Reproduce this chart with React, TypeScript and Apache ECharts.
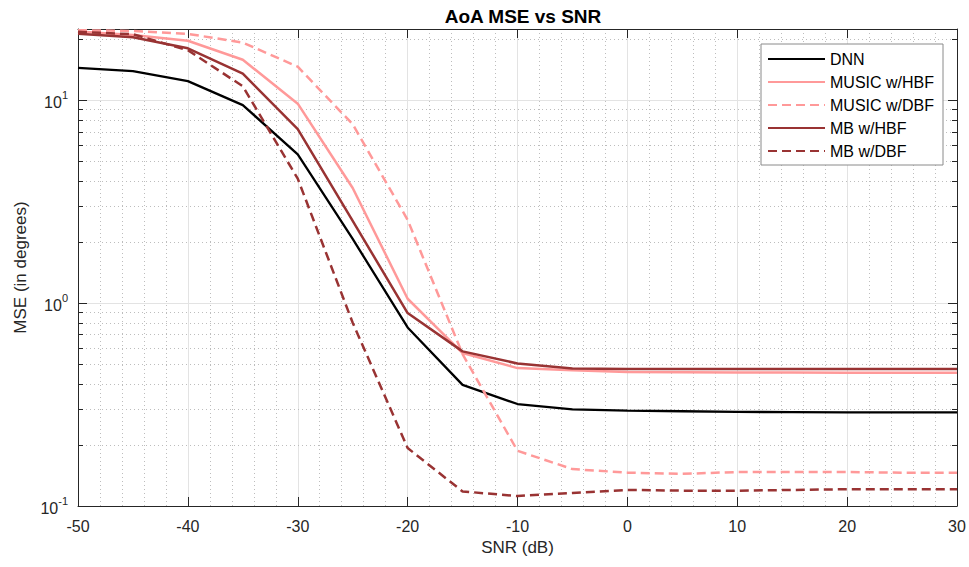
import React, { useEffect, useRef } from "react";
import * as echarts from "echarts";

const snr = [-50, -45, -40, -35, -30, -25, -20, -15, -10, -5, 0, 5, 10, 15, 20, 25, 30];
const dnn = [14.4, 13.9, 12.4, 9.45, 5.4, 2.07, 0.758, 0.395, 0.318, 0.299, 0.295, 0.293, 0.291, 0.29, 0.289, 0.289, 0.289];
const musicHbf = [21.8, 20.9, 19.6, 15.8, 9.6, 3.69, 1.05, 0.567, 0.478, 0.466, 0.457, 0.456, 0.455, 0.455, 0.454, 0.454, 0.454];
const musicDbf = [22.1, 21.9, 21.2, 19.2, 14.6, 7.6, 2.57, 0.56, 0.187, 0.152, 0.146, 0.144, 0.147, 0.147, 0.147, 0.146, 0.146];
const mbHbf = [21.2, 20.4, 18.0, 13.5, 7.2, 2.54, 0.893, 0.578, 0.504, 0.476, 0.473, 0.473, 0.473, 0.473, 0.473, 0.473, 0.473];
const mbDbf = [21.7, 21.1, 17.6, 11.7, 4.1, 0.8, 0.193, 0.118, 0.112, 0.116, 0.12, 0.119, 0.119, 0.12, 0.121, 0.121, 0.121];

const seriesNames = ["DNN", "MUSIC w/HBF", "MUSIC w/DBF", "MB w/HBF", "MB w/DBF"];
const minorY = [0.2, 0.3, 0.4, 0.5, 0.6, 0.7, 0.8, 0.9, 2, 3, 4, 5, 6, 7, 8, 9, 20];

const X_MIN = -50;
const X_MAX = 30;
const Y_MIN = 0.1;
const Y_MAX = 22.4;

const FONT = "'Liberation Sans', Arial, Helvetica, sans-serif";
const AXIS_COLOR = "#262626";
const PINK = "#ff9999";
const DARK = "#993333";

function pairs(ys: number[]) {
  return snr.map((x, i) => [x, ys[i]]);
}

export default function App() {
  const ref = useRef<HTMLDivElement>(null);

  useEffect(() => {
    if (!ref.current) return;
    const chart = echarts.init(ref.current, undefined, { renderer: "svg" });

    const lineSeries = (name: string, data: number[], color: string, dashed: boolean, width: number) => ({
      name,
      type: "line",
      data: pairs(data),
      xAxisIndex: 0,
      yAxisIndex: 0,
      symbol: "none",
      showSymbol: false,
      smooth: false,
      z: 5,
      lineStyle: { color, width, type: dashed ? [9, 5] : "solid" },
      itemStyle: { color },
    });

    const option: any = {
      animation: false,
      backgroundColor: "#ffffff",
      textStyle: { fontFamily: FONT },
      title: {
        text: "AoA MSE vs SNR",
        left: 518,
        textAlign: "center",
        top: 2,
        textStyle: { fontFamily: FONT, fontSize: 19, fontWeight: "bold", color: "#000" },
      },
      legend: {
        data: seriesNames,
        orient: "vertical",
        left: 761,
        top: 44,
        padding: [7, 9, 6, 6],
        itemWidth: 57,
        itemHeight: 14,
        itemGap: 7,
        backgroundColor: "#ffffff",
        borderColor: "#8a8a8a",
        borderWidth: 1,
        itemStyle: { color: "rgba(0,0,0,0)", borderColor: "rgba(0,0,0,0)", borderWidth: 0, opacity: 0 },
        textStyle: { fontFamily: FONT, fontSize: 16, color: "#000" },
      },
      grid: { left: 78, right: 12, top: 29, bottom: 61, containLabel: false },
      xAxis: [
        {
          type: "value",
          min: X_MIN,
          max: X_MAX,
          interval: 10,
          position: "bottom",
          name: "SNR (dB)",
          nameLocation: "middle",
          nameGap: 33,
          nameTextStyle: { fontFamily: FONT, fontSize: 17, color: AXIS_COLOR },
          axisLine: { show: true, onZero: false, lineStyle: { color: AXIS_COLOR, width: 1 } },
          axisTick: { show: true, inside: true, length: 9, lineStyle: { color: AXIS_COLOR } },
          axisLabel: { fontFamily: FONT, fontSize: 16, color: AXIS_COLOR, margin: 12 },
          splitLine: { show: true, lineStyle: { color: "#e3e3e3", width: 1 } },
          minorTick: { show: false, splitNumber: 5 },
          minorSplitLine: { show: true, lineStyle: { color: "#bdbdbd", width: 1, type: [1, 3] } },
        },
        {
          type: "value",
          min: X_MIN,
          max: X_MAX,
          interval: 10,
          position: "top",
          axisLine: { show: true, onZero: false, lineStyle: { color: AXIS_COLOR, width: 1 } },
          axisTick: { show: true, inside: true, length: 9, lineStyle: { color: AXIS_COLOR } },
          axisLabel: { show: false },
          splitLine: { show: false },
        },
      ],
      yAxis: [
        {
          type: "log",
          logBase: 10,
          min: Y_MIN,
          max: Y_MAX,
          position: "left",
          name: "MSE (in degrees)",
          nameLocation: "middle",
          nameGap: 49,
          nameRotate: 90,
          nameTextStyle: { fontFamily: FONT, fontSize: 17, color: AXIS_COLOR },
          axisLine: { show: true, onZero: false, lineStyle: { color: AXIS_COLOR, width: 1 } },
          axisTick: { show: true, inside: true, length: 9, lineStyle: { color: AXIS_COLOR } },
          axisLabel: {
            showMaxLabel: false,
            margin: 10,
            formatter: (v: number) => {
              const e = Math.round(Math.log10(v));
              return `{b|10}{s|${e}}`;
            },
            rich: {
              b: { fontFamily: FONT, fontSize: 16, color: AXIS_COLOR, padding: [5, 0, 0, 0] },
              s: { fontFamily: FONT, fontSize: 11, color: AXIS_COLOR, verticalAlign: "top", lineHeight: 11 },
            },
          },
          splitLine: { show: true, lineStyle: { color: "#e3e3e3", width: 1 } },
        },
        {
          type: "log",
          logBase: 10,
          min: Y_MIN,
          max: Y_MAX,
          position: "right",
          axisLine: { show: true, onZero: false, lineStyle: { color: AXIS_COLOR, width: 1 } },
          axisTick: { show: true, inside: true, length: 9, lineStyle: { color: AXIS_COLOR } },
          axisLabel: { show: false },
          splitLine: { show: false },
        },
      ],
      series: [
        {
          type: "custom",
          silent: true,
          z: 1,
          xAxisIndex: 0,
          yAxisIndex: 0,
          data: minorY.map((v) => [X_MIN, v]),
          renderItem: (_params: any, api: any) => {
            const v = api.value(1);
            const a = api.coord([X_MIN, v]);
            const b = api.coord([X_MAX, v]);
            const y = Math.round(a[1]) + 0.5;
            return {
              type: "group",
              children: [
                {
                  type: "line",
                  shape: { x1: a[0], y1: y, x2: b[0], y2: y },
                  style: { stroke: "#bdbdbd", lineWidth: 1, lineDash: [1, 3] },
                },
                {
                  type: "line",
                  shape: { x1: a[0], y1: y, x2: a[0] + 5, y2: y },
                  style: { stroke: AXIS_COLOR, lineWidth: 1 },
                },
                {
                  type: "line",
                  shape: { x1: b[0] - 5, y1: y, x2: b[0], y2: y },
                  style: { stroke: AXIS_COLOR, lineWidth: 1 },
                },
              ],
            };
          },
        },
        lineSeries("DNN", dnn, "#000000", false, 2.3),
        lineSeries("MUSIC w/HBF", musicHbf, PINK, false, 2.5),
        lineSeries("MUSIC w/DBF", musicDbf, PINK, true, 2.5),
        lineSeries("MB w/HBF", mbHbf, DARK, false, 2.5),
        lineSeries("MB w/DBF", mbDbf, DARK, true, 2.5),
      ],
    };

    chart.setOption(option);
    return () => chart.dispose();
  }, []);

  return <div ref={ref} style={{ width: 969, height: 567, position: "absolute", left: 0, top: 0 }} />;
}
